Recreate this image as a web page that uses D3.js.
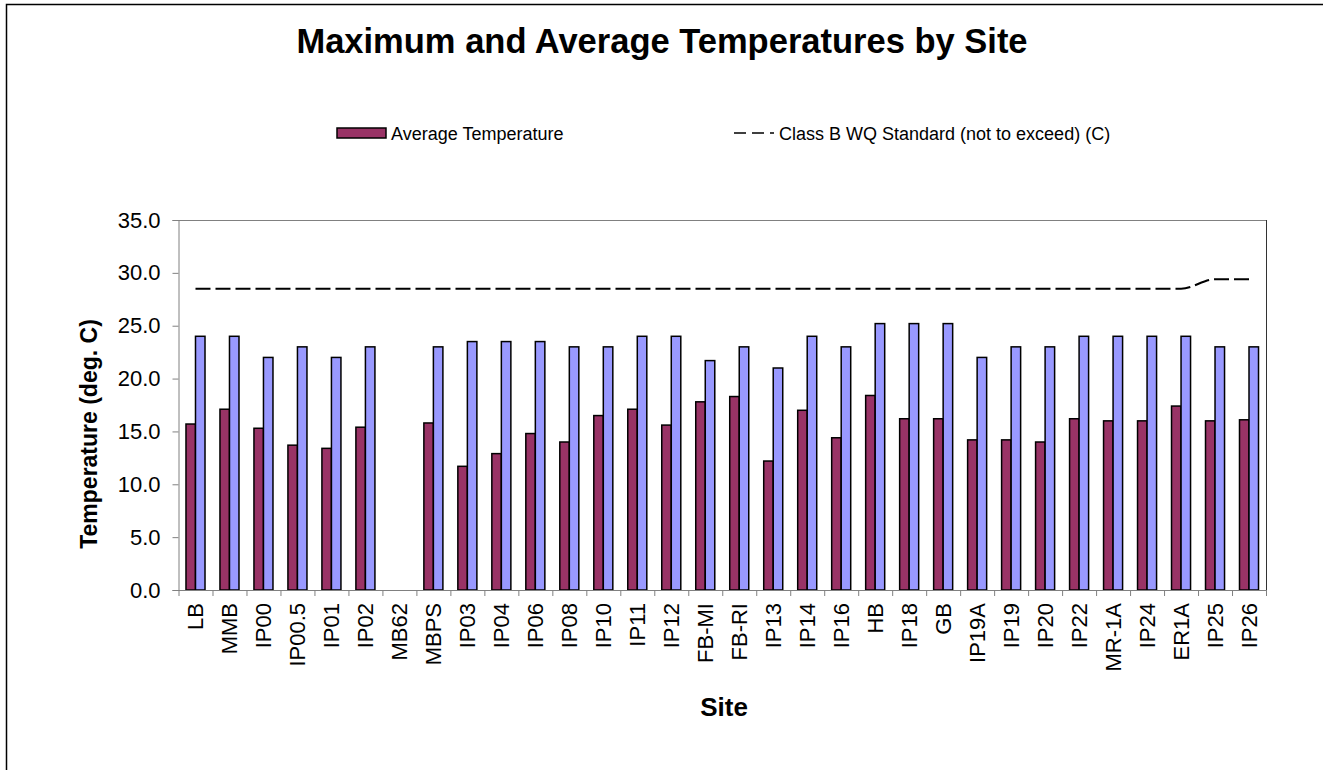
<!DOCTYPE html>
<html>
<head>
<meta charset="utf-8">
<script src="https://cdn.jsdelivr.net/npm/d3@7"></script>
<style>
  body { margin: 0; background: #fff; }
  svg { font-family: "Liberation Sans", Arial, sans-serif; }
</style>
</head>
<body>
<svg width="1323" height="770"></svg>
<script>
const sites = ["LB","MMB","IP00","IP00.5","IP01","IP02","MB62","MBPS","IP03","IP04","IP06","IP08","IP10","IP11","IP12","FB-MI","FB-RI","IP13","IP14","IP16","HB","IP18","GB","IP19A","IP19","IP20","IP22","MR-1A","IP24","ER1A","IP25","IP26"];
const avgTemp = [15.7,17.1,15.3,13.7,13.4,15.4,null,15.8,11.7,12.9,14.8,14.0,16.5,17.1,15.6,17.8,18.3,12.2,17.0,14.4,18.4,16.2,16.2,14.2,14.2,14.0,16.2,16.0,16.0,17.4,16.0,16.1];
const maxTemp = [24.0,24.0,22.0,23.0,22.0,23.0,null,23.0,23.5,23.5,23.5,23.0,23.0,24.0,24.0,21.7,23.0,21.0,24.0,23.0,25.2,25.2,25.2,22.0,23.0,23.0,24.0,24.0,24.0,24.0,23.0,23.0];
const wqStandard = [28.5,28.5,28.5,28.5,28.5,28.5,28.5,28.5,28.5,28.5,28.5,28.5,28.5,28.5,28.5,28.5,28.5,28.5,28.5,28.5,28.5,28.5,28.5,28.5,28.5,28.5,28.5,28.5,28.5,28.5,29.4,29.4];
const yTicks = [0,5,10,15,20,25,30,35];

const svg = d3.select("svg");
const plotLeft = 178.5, plotRight = 1266, plotTop = 220, plotBottom = 590;

// outer frame
svg.append("path")
  .attr("d", "M6.5,770 L6.5,4.5 L1323,4.5")
  .attr("fill", "none").attr("stroke", "#000").attr("stroke-width", 1.5);

const xScale = d3.scaleBand().domain(sites).range([plotLeft, plotRight]).padding(0);
const bw = xScale.bandwidth();
const subScale = d3.scaleBand().domain(["avg","max"]).range([bw*0.22, bw*0.78]).padding(0);
const yScale = d3.scaleLinear().domain([0, 35]).range([plotBottom, plotTop]);

/*plot border top and right*/
svg.append("line").attr("x1", plotLeft).attr("x2", plotRight).attr("y1", plotTop+0.5).attr("y2", plotTop+0.5)
  .attr("stroke", "#808080").attr("stroke-width", 1);
svg.append("line").attr("x1", plotRight+0.5).attr("x2", plotRight+0.5).attr("y1", plotTop).attr("y2", plotBottom)
  .attr("stroke", "#333").attr("stroke-width", 1);

/*y axis*/
const yAxis = d3.axisLeft(yScale).tickValues(yTicks).tickFormat(d3.format(".1f")).tickSize(6).tickPadding(12);
const yg = svg.append("g").attr("transform", `translate(${plotLeft},0)`).call(yAxis);
yg.select(".domain").attr("stroke", "#808080");
yg.selectAll(".tick line").attr("stroke", "#808080");
yg.selectAll(".tick text").attr("font-size", 22).attr("fill", "#000").attr("font-family", "Liberation Sans, Arial, sans-serif");

/*bars*/
const groups = svg.append("g").selectAll("g").data(sites).join("g")
  .attr("transform", d => `translate(${xScale(d)},0)`);

groups.append("rect")
  .filter((d, i) => avgTemp[i] != null)
  .attr("x", d => subScale("avg"))
  .attr("width", subScale.bandwidth())
  .attr("y", d => yScale(avgTemp[sites.indexOf(d)]))
  .attr("height", d => plotBottom - yScale(avgTemp[sites.indexOf(d)]))
  .attr("fill", "#993366").attr("stroke", "#000").attr("stroke-width", 1.5);

groups.append("rect")
  .filter((d, i) => maxTemp[i] != null)
  .attr("x", d => subScale("max"))
  .attr("width", subScale.bandwidth())
  .attr("y", d => yScale(maxTemp[sites.indexOf(d)]))
  .attr("height", d => plotBottom - yScale(maxTemp[sites.indexOf(d)]))
  .attr("fill", "#9999FF").attr("stroke", "#000").attr("stroke-width", 1.5);

/*x axis: ticks between categories*/
const xg = svg.append("g");
xg.append("line").attr("x1", plotLeft).attr("x2", plotRight).attr("y1", plotBottom+0.5).attr("y2", plotBottom+0.5)
  .attr("stroke", "#808080");
xg.selectAll("line.tk").data(sites.concat(["end"])).join("line").attr("class", "tk")
  .attr("x1", (d, i) => plotLeft + i*bw + 0.5).attr("x2", (d, i) => plotLeft + i*bw + 0.5)
  .attr("y1", plotBottom).attr("y2", plotBottom + 6)
  .attr("stroke", "#808080");
xg.selectAll("text").data(sites).join("text")
  .attr("transform", d => `translate(${xScale(d) + bw/2 + 8},${plotBottom + 13}) rotate(-90)`)
  .attr("text-anchor", "end")
  .attr("font-size", 22)
  .text(d => d);

/*standard line*/
const lineGen = d3.line()
  .x((d, i) => xScale(sites[i]) + bw/2)
  .y(d => yScale(d))
  .curve(d3.curveMonotoneX);
svg.append("path")
  .attr("d", lineGen(wqStandard))
  .attr("fill", "none").attr("stroke", "#000").attr("stroke-width", 2)
  .attr("stroke-dasharray", "15,5");

/*titles*/
svg.append("text").attr("x", 662).attr("y", 53).attr("text-anchor", "middle")
  .attr("font-size", 34.5).attr("font-weight", "bold").text("Maximum and Average Temperatures by Site");
svg.append("text").attr("transform", "translate(97,434) rotate(-90)").attr("text-anchor", "middle")
  .attr("font-size", 23).attr("font-weight", "bold").text("Temperature (deg. C)");
svg.append("text").attr("x", 724).attr("y", 716).attr("text-anchor", "middle")
  .attr("font-size", 26).attr("font-weight", "bold").text("Site");

/*legend*/
const lg = svg.append("g");
lg.append("rect").attr("x", 337).attr("y", 128).attr("width", 49).attr("height", 10)
  .attr("fill", "#993366").attr("stroke", "#000").attr("stroke-width", 1.5);
lg.append("text").attr("x", 391).attr("y", 139.5).attr("font-size", 18).text("Average Temperature");
lg.append("line").attr("x1", 734).attr("x2", 774).attr("y1", 133).attr("y2", 133)
  .attr("stroke", "#000").attr("stroke-width", 1.5).attr("stroke-dasharray", "12,6");
lg.append("text").attr("x", 779).attr("y", 139.5).attr("font-size", 18).text("Class B WQ Standard (not to exceed) (C)");
</script>
</body>
</html>
